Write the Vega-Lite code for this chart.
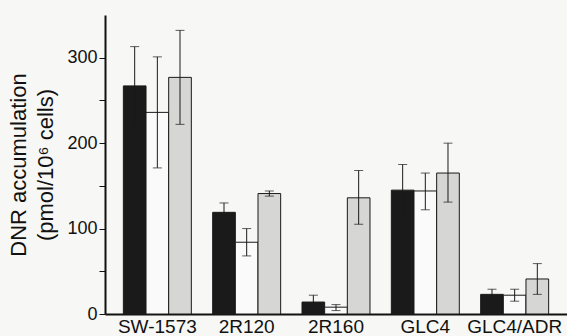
{
  "$schema": "https://vega.github.io/schema/vega-lite/v6.json",
  "autosize": {"type": "none"},
  "width": 462,
  "height": 299,
  "padding": {"left": 105, "top": 15, "right": 0, "bottom": 22},
  "background": "#f7f7f5",
  "config": {
    "view": {"stroke": null},
    "font": "Liberation Sans"
  },
  "data": {
    "values": [
      {"line": "SW-1573", "series": "A", "mean": 267, "lo": 221, "hi": 313},
      {"line": "SW-1573", "series": "B", "mean": 236, "lo": 171, "hi": 301},
      {"line": "SW-1573", "series": "C", "mean": 277, "lo": 222, "hi": 332},
      {"line": "2R120", "series": "A", "mean": 119, "lo": 108, "hi": 130},
      {"line": "2R120", "series": "B", "mean": 84, "lo": 68, "hi": 100},
      {"line": "2R120", "series": "C", "mean": 141, "lo": 138, "hi": 144},
      {"line": "2R160", "series": "A", "mean": 14, "lo": 6, "hi": 22},
      {"line": "2R160", "series": "B", "mean": 8, "lo": 4, "hi": 11},
      {"line": "2R160", "series": "C", "mean": 136, "lo": 105, "hi": 168},
      {"line": "GLC4", "series": "A", "mean": 145, "lo": 115, "hi": 175},
      {"line": "GLC4", "series": "B", "mean": 144, "lo": 122, "hi": 165},
      {"line": "GLC4", "series": "C", "mean": 165, "lo": 131, "hi": 200},
      {"line": "GLC4/ADR", "series": "A", "mean": 23, "lo": 17, "hi": 29},
      {"line": "GLC4/ADR", "series": "B", "mean": 22, "lo": 15, "hi": 29},
      {"line": "GLC4/ADR", "series": "C", "mean": 41, "lo": 23, "hi": 59}
    ]
  },
  "encoding": {
    "x": {
      "field": "line",
      "type": "nominal",
      "sort": ["SW-1573", "2R120", "2R160", "GLC4", "GLC4/ADR"],
      "scale": {"paddingInner": 0.239, "paddingOuter": 0.2055},
      "axis": {
        "title": null,
        "labelAngle": 0,
        "ticks": false,
        "domainColor": "#111",
        "domainWidth": 2,
        "labelFontSize": 19,
        "labelColor": "#111",
        "labelPadding": 3
      }
    },
    "xOffset": {
      "field": "series",
      "type": "nominal",
      "sort": ["A", "B", "C"],
      "scale": {"paddingInner": 0, "paddingOuter": 0}
    }
  },
  "layer": [
    {
      "mark": {"type": "bar", "stroke": "#1a1a1a", "strokeWidth": 1},
      "encoding": {
        "y": {
          "field": "mean",
          "type": "quantitative",
          "scale": {"domain": [0, 350], "nice": false},
          "axis": {
            "title": ["DNR accumulation", "(pmol/10⁶ cells)"],
            "titleFontSize": 22,
            "titleFontWeight": "normal",
            "titleColor": "#111",
            "titlePadding": 9,
            "titleLineHeight": 27,
            "values": [0, 50, 100, 150, 200, 250, 300],
            "labelExpr": "datum.value % 100 == 0 ? datum.label : ''",
            "labelFontSize": 18,
            "labelColor": "#111",
            "labelPadding": 2,
            "tickSize": 6,
            "tickColor": "#111",
            "domainColor": "#111",
            "domainWidth": 2,
            "grid": false
          }
        },
        "fill": {
          "field": "series",
          "type": "nominal",
          "scale": {"domain": ["A", "B", "C"], "range": ["#1a1a1a", "#fafafa", "#d6d6d4"]},
          "legend": null
        }
      }
    },
    {
      "mark": {"type": "rule", "color": "#1a1a1a", "strokeWidth": 1},
      "encoding": {
        "y": {"field": "lo", "type": "quantitative"},
        "y2": {"field": "hi"}
      }
    },
    {
      "mark": {"type": "tick", "color": "#1a1a1a", "size": 9, "thickness": 1},
      "encoding": {
        "y": {"field": "hi", "type": "quantitative"}
      }
    },
    {
      "mark": {"type": "tick", "color": "#1a1a1a", "size": 9, "thickness": 1},
      "encoding": {
        "y": {"field": "lo", "type": "quantitative"}
      }
    }
  ]
}
